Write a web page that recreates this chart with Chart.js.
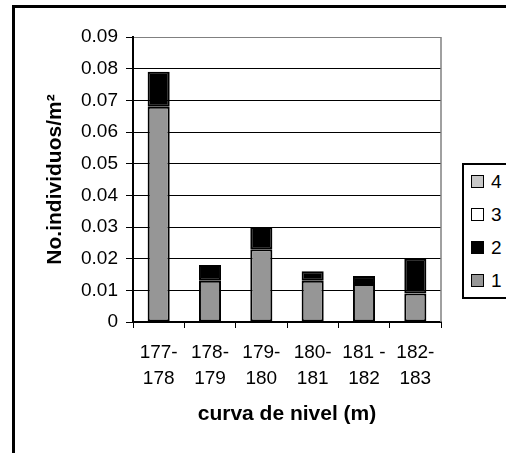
<!DOCTYPE html>
<html lang="es">
<head>
  <meta charset="UTF-8">
  <title>No. individuos por curva de nivel</title>
  <script src="https://cdn.jsdelivr.net/npm/chart.js"></script>
  <style>
    html, body {
      margin: 0;
      padding: 0;
      background: #fff;
      overflow: hidden;
    }
    .wrap {
      position: relative;
      width: 506px;
      height: 453px;
    }
    .frame {
      position: absolute;
      left: 12px;
      top: 5px;
      width: 600px;
      height: 600px;
      border-left: 3px solid #000;
      border-top: 3px solid #000;
    }
    canvas {
      position: absolute;
      left: 0;
      top: 0;
    }
    .legend {
      position: absolute;
      left: 462px;
      top: 163px;
      width: 80px;
      list-style: none;
      margin: 0;
      padding: 0;
      border: 2px solid #000;
      background: #fff;
      font-family: Arial, "Liberation Sans", sans-serif;
      font-size: 19px;
    }
    .legend li {
      display: flex;
      align-items: center;
      height: 33px;
    }
    .legend span {
      width: 11px;
      height: 11px;
      border: 1px solid #000;
      margin-left: 7px;
      margin-right: 7px;
    }
  </style>
</head>
<body>
  <div class="wrap">
    <div class="frame"></div>
    <canvas id="chart" width="506" height="453"></canvas>
    <ul class="legend" id="legend"></ul>
  </div>
  <script>
    const categories = [['177-', '178'], ['178-', '179'], ['179-', '180'], ['180-', '181'], ['181 -', '182'], ['182-', '183']];
    const serie1 = [0.068, 0.013, 0.023, 0.013, 0.012, 0.009];
    const serie2 = [0.011, 0.005, 0.007, 0.003, 0.0025, 0.011];
    const serie3 = [0, 0, 0, 0, 0, 0];
    const serie4 = [0, 0, 0, 0, 0, 0];
    const seriesNames = ['1', '2', '3', '4'];
    const seriesColors = ['#969696', '#000000', '#ffffff', '#c8c8c8'];

    Chart.defaults.font.family = 'Arial, "Liberation Sans", sans-serif';
    Chart.defaults.color = '#000';

    // gray right edge of the plot area
    const plotEdge = {
      id: 'plotEdge',
      beforeDatasetsDraw(chart) {
        const { ctx, chartArea } = chart;
        ctx.save();
        ctx.strokeStyle = '#808080';
        ctx.lineWidth = 1.5;
        ctx.beginPath();
        ctx.moveTo(chartArea.right, chartArea.top);
        ctx.lineTo(chartArea.right, chartArea.bottom);
        ctx.stroke();
        ctx.restore();
      }
    };

    function makeSet(i, data) {
      return {
        label: seriesNames[i],
        data: data,
        backgroundColor: seriesColors[i],
        borderColor: '#000',
        borderWidth: i < 2 ? 2 : 0,
        borderSkipped: false,
        barPercentage: 0.43,
        categoryPercentage: 1
      };
    }

    const chart = new Chart(document.getElementById('chart'), {
      type: 'bar',
      data: {
        labels: categories,
        datasets: [makeSet(0, serie1), makeSet(1, serie2), makeSet(2, serie3), makeSet(3, serie4)]
      },
      plugins: [plotEdge],
      options: {
        responsive: false,
        animation: false,
        layout: { padding: { top: 37, right: 65, bottom: 0, left: 0 } },
        plugins: {
          legend: { display: false },
          tooltip: { enabled: false }
        },
        scales: {
          x: {
            stacked: true,
            afterFit(scale) { scale.height = 131; },
            grid: { drawOnChartArea: false, drawTicks: true, tickLength: 6, tickColor: '#000', offset: true },
            border: { color: '#000', width: 2 },
            ticks: { font: { size: 19, lineHeight: 1.37 }, padding: 12, maxRotation: 0, autoSkip: false },
            title: {
              display: true,
              text: 'curva de nivel (m)',
              font: { size: 21, weight: 'bold', lineHeight: 1.2 },
              padding: { top: 0, bottom: 26 }
            }
          },
          y: {
            stacked: true,
            min: 0,
            max: 0.09,
            afterFit(scale) { scale.width = 133; },
            grid: {
              color: (c) => (c.tick && c.tick.value > 0.0895 ? '#808080' : '#000'),
              lineWidth: 1,
              tickLength: 7,
              tickColor: '#000'
            },
            border: { color: '#000', width: 2 },
            ticks: {
              stepSize: 0.01,
              padding: 8,
              font: { size: 19 },
              callback: (v) => (v === 0 ? '0' : v.toFixed(2))
            },
            title: {
              display: true,
              text: 'No.individuos/m²',
              font: { size: 21, weight: 'bold', lineHeight: 1.2 },
              padding: { top: 43, bottom: 0 }
            }
          }
        }
      }
    });

    function populateLegend(el) {
      const sets = chart.data.datasets.slice().reverse();
      el.innerHTML = sets.map((ds) => `
        <li><span style="background-color: ${ds.backgroundColor}"></span>${ds.label}</li>
      `).join('');
    }

    populateLegend(document.getElementById('legend'));
  </script>
</body>
</html>
